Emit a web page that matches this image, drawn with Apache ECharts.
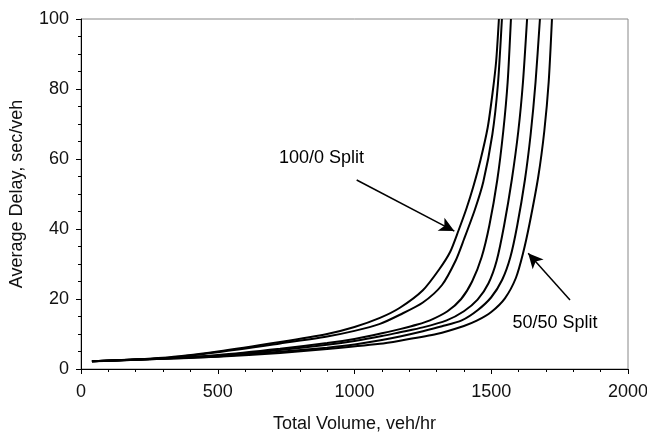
<!DOCTYPE html>
<html>
<head>
<meta charset="utf-8">
<script src="https://cdn.jsdelivr.net/npm/echarts@6/dist/echarts.min.js"></script>
<style>
html,body{margin:0;padding:0;background:#fff;}
#chart{width:647px;height:437px;}
</style>
</head>
<body>
<div id="chart"></div>
<script>
// Curves: [total volume (veh/hr), average delay (sec/veh)]
const curve1 = [[40,2.2],[300,3.2],[500,5.0],[728,7.7],[900,10.0],[1000,12.0],[1093,14.6],[1166,17.5],[1250,22.5],[1310,28.5],[1350,33.5],[1380,39.5],[1410,46],[1434,52],[1460,59.5],[1487,69],[1505,79],[1518,88],[1528,100]];
const curve2 = [[40,2.2],[300,3.1],[500,4.8],[728,7.3],[900,9.3],[1000,10.9],[1093,12.9],[1166,15.5],[1250,19],[1320,24],[1370,31],[1400,37],[1440,45.5],[1471,53.5],[1504,67],[1524,81],[1539,100]];
const curve3 = [[40,2.2],[300,3.0],[500,4.0],[728,5.8],[900,7.4],[1000,8.6],[1100,10.2],[1166,11.4],[1230,12.7],[1276,13.9],[1340,16.5],[1390,20],[1430,25],[1465,32],[1493,41],[1522,54],[1544,68],[1560,82],[1572,100]];
const curve4 = [[40,2.2],[300,3.0],[500,3.8],[728,5.4],[900,6.9],[1000,8.0],[1100,9.4],[1166,10.5],[1250,11.9],[1337,13.9],[1400,16.5],[1450,19.8],[1490,24.5],[1520,31],[1547,41],[1575,54],[1599,68],[1616,82],[1631,100]];
const curve5 = [[40,2.2],[300,2.9],[500,3.6],[728,4.9],[900,6.1],[1000,7.0],[1100,8.3],[1166,9.3],[1250,10.8],[1320,12.2],[1392,13.9],[1450,16.8],[1500,20.5],[1540,25.5],[1570,32],[1595,41],[1623,54],[1644,67],[1662,82],[1678,100]];
const curve6 = [[40,2.2],[300,2.9],[500,3.5],[728,4.6],[900,5.7],[1093,7.2],[1166,8.1],[1300,10.0],[1400,12.3],[1447,13.8],[1500,16.3],[1550,20.2],[1590,26],[1616,33],[1640,41.5],[1672,55],[1694,68],[1710,82],[1722,100]];

const xTicks = {min: 0, max: 2000, step: 500};
const yTicks = {min: 0, max: 100, step: 20};

const labelSplit100 = {text: '100/0 Split', at: [879, 60.4]};
const labelSplit50 = {text: '50/50 Split', at: [1733, 13.0]};
const arrow100 = [[1008, 54], [1365, 39.4]];
const arrow50 = [[1788, 19.7], [1635, 33.1]];

const FONT = '"Liberation Sans", Arial, sans-serif';
const curves = [curve1, curve2, curve3, curve4, curve5, curve6];

const series = curves.map((c) => ({
  type: 'line',
  data: c,
  smooth: 0.25,
  showSymbol: false,
  symbol: 'none',
  lineStyle: {color: '#000', width: 2},
  z: 3
}));

// annotation series
series.push({
  type: 'line',
  data: [],
  markLine: {
    silent: true,
    symbol: ['none', 'arrow'],
    symbolSize: [11, 15],
    lineStyle: {color: '#000', width: 1.5, type: 'solid'},
    label: {show: false},
    data: [
      [{coord: arrow100[0]}, {coord: arrow100[1]}],
      [{coord: arrow50[0]}, {coord: arrow50[1]}]
    ]
  },
  markPoint: {
    silent: true,
    symbol: 'circle',
    symbolSize: 0,
    label: {show: true, color: '#000', fontFamily: FONT, fontSize: 18, position: 'inside'},
    data: [
      {coord: labelSplit100.at, value: labelSplit100.text, label: {formatter: labelSplit100.text}},
      {coord: labelSplit50.at, value: labelSplit50.text, label: {formatter: labelSplit50.text}}
    ]
  }
});

const chart = echarts.init(document.getElementById('chart'), null, {renderer: 'canvas'});
chart.setOption({
  animation: false,
  backgroundColor: '#fff',
  grid: {left: 81, top: 19, right: 19, bottom: 68, show: true, borderColor: '#888', borderWidth: 1, containLabel: false, outerBoundsMode: 'none'},
  xAxis: {
    type: 'value', min: xTicks.min, max: xTicks.max, interval: xTicks.step,
    name: 'Total Volume, veh/hr', nameLocation: 'middle', nameGap: 46,
    nameTextStyle: {fontFamily: FONT, fontSize: 18, color: '#111'},
    axisLine: {show: true, onZero: false, lineStyle: {color: '#000', width: 1}},
    axisTick: {show: true, inside: false, length: 5, lineStyle: {color: '#000'}},
    minorTick: {show: true, splitNumber: 5, length: 3, lineStyle: {color: '#000'}},
    splitLine: {show: false},
    axisLabel: {fontFamily: FONT, fontSize: 18, color: '#111', margin: 14, formatter: (v) => String(v)}
  },
  yAxis: {
    type: 'value', min: yTicks.min, max: yTicks.max, interval: yTicks.step,
    name: 'Average Delay, sec/veh', nameLocation: 'middle', nameGap: 55, nameRotate: 90,
    nameTextStyle: {fontFamily: FONT, fontSize: 18, color: '#111'},
    axisLine: {show: true, onZero: false, lineStyle: {color: '#000', width: 1}},
    axisTick: {show: true, inside: false, length: 5, lineStyle: {color: '#000'}},
    minorTick: {show: true, splitNumber: 4, length: 3, lineStyle: {color: '#000'}},
    splitLine: {show: false},
    axisLabel: {fontFamily: FONT, fontSize: 18, color: '#111', margin: 12, formatter: (v) => String(v)}
  },
  series: series
});
</script>
</body>
</html>
